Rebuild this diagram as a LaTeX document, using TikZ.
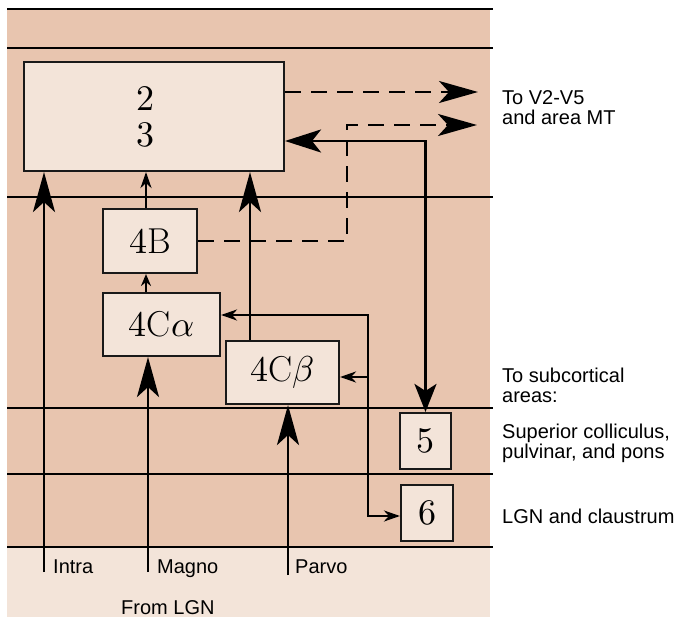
\documentclass[tikz,border=0pt]{standalone}
\usepackage{unicode-math}
\setmathfont{Latin Modern Math}
\newfontfamily\labfont{Liberation Sans}
\usetikzlibrary{arrows.meta}
\definecolor{tanbg}{HTML}{E8C5AF}
\definecolor{palebg}{HTML}{F3E4D9}
\tikzset{
  layer/.style={line width=1.2pt, black},
  box/.style={draw=black!90, line width=2.1pt, fill=palebg, inner sep=0pt, font=\fontsize{36}{40}\selectfont},
  num/.style={inner sep=0pt, font=\fontsize{36}{36}\selectfont},
  lab/.style={inner sep=0pt, align=left, font=\labfont\fontsize{20}{20}\selectfont},
  bigarrow/.style={line width=2.8pt, -{Stealth[length=40pt,width=22pt,inset=10pt]}},
  smallarrow/.style={line width=2.3pt, -{Stealth[length=16pt,width=11pt,inset=5pt]}},
  tinyarrow/.style={line width=2.3pt, -{Stealth[length=12pt,width=10pt,inset=4pt]}},
  dasharrow/.style={line width=2.5pt, dash pattern=on 16pt off 10pt, -{Stealth[length=39pt,width=22pt,inset=10pt]}},
}
\begin{document}
\begin{tikzpicture}[x=1pt,y=-1pt]
\useasboundingbox (0,0) rectangle (682,617);
\fill[tanbg] (7,10) rectangle (490,547);
\fill[palebg] (7,547) rectangle (490,617);
\foreach \yy in {9,48,197,408,474,547} \draw[layer] (7,\yy) -- (493,\yy);

% boxes
\node[box, minimum width=260pt, minimum height=109pt] (L23) at (154,116.5) {};
\node[num, anchor=base] (t2) at (145,110.5) {$2$};
\node[num, anchor=base] (t3) at (145,147) {$3$};
\node[box, minimum width=94pt, minimum height=64pt] (B4) at (150,241) {$4\mathrm{B}$};
\node[box, minimum width=117pt, minimum height=63pt] (Ca) at (161.5,324.5) {$4\mathrm{C}\alpha$};
\node[box, minimum width=113pt, minimum height=63pt] (Cb) at (282.5,372.5) {$4\mathrm{C}\beta$};
\node[box, minimum width=51pt, minimum height=56pt] (L5) at (425.5,441) {$5$};
\node[box, minimum width=52pt, minimum height=56pt] (L6) at (427,513) {$6$};

% helper coordinates
\coordinate (intra) at (44,572);
\coordinate (magno) at (148,572);
\coordinate (parvo) at (288,575);
\coordinate (xb) at (250,0);
\coordinate (xs) at (146,0);
\coordinate (to1) at (478,92);
\coordinate (to2) at (477,125);
\coordinate (d2) at (347,125);
\coordinate (r1) at (425.5,141);
\coordinate (j1) at (368,315);
\coordinate (j2) at (368,377);
\coordinate (j3) at (368,516);

% connectors
\draw[bigarrow] (intra) -- (intra |- L23.south);
\draw[bigarrow] (magno) -- (magno |- Ca.south);
\draw[bigarrow] (parvo) -- (parvo |- Cb.south);
\draw[bigarrow] (Cb.north -| xb) -- (L23.south -| xb);
\draw[smallarrow] (B4.north -| xs) -- (L23.south -| xs);
\draw[tinyarrow] (Ca.north -| xs) -- (B4.south -| xs);
\draw[dasharrow] (L23.east |- to1) -- (to1);
\draw[dasharrow] (B4.east) -- (B4.east -| d2) -- (d2) -- (to2);
\draw[line width=2.8pt, {Stealth[length=28pt,width=22pt,inset=7pt]}-{Stealth[length=36pt,width=23pt,inset=9pt]}] (L5.north) -- (r1) -- (L23.east |- r1);
\draw[line width=2.3pt, {Stealth[length=16pt,width=11pt,inset=5pt]}-{Stealth[length=16pt,width=11pt,inset=5pt]}] (Ca.east |- j1) -- (j1) -- (j3) -- (L6.west |- j3);
\draw[smallarrow] (j2) -- (Cb.east |- j2);

% labels (base anchor sits on the last line)
\node[lab, anchor=base west] (tv) at (502,125) {To V2-V5\\and area MT};
\node[lab, anchor=base west] (ts) at (502,402) {To subcortical\\areas:};
\node[lab, anchor=base west] (sc) at (502,458) {Superior colliculus,\\pulvinar, and pons};
\node[lab, anchor=base west] (lc) at (502,523) {LGN and claustrum};
\node[lab, anchor=base west] (li) at (53,573) {Intra};
\node[lab, anchor=base west] (lm) at (157,573) {Magno};
\node[lab, anchor=base west] (lp) at (295,573) {Parvo};
\node[lab, anchor=base west] (lf) at (121,614) {From LGN};
\end{tikzpicture}
\end{document}
